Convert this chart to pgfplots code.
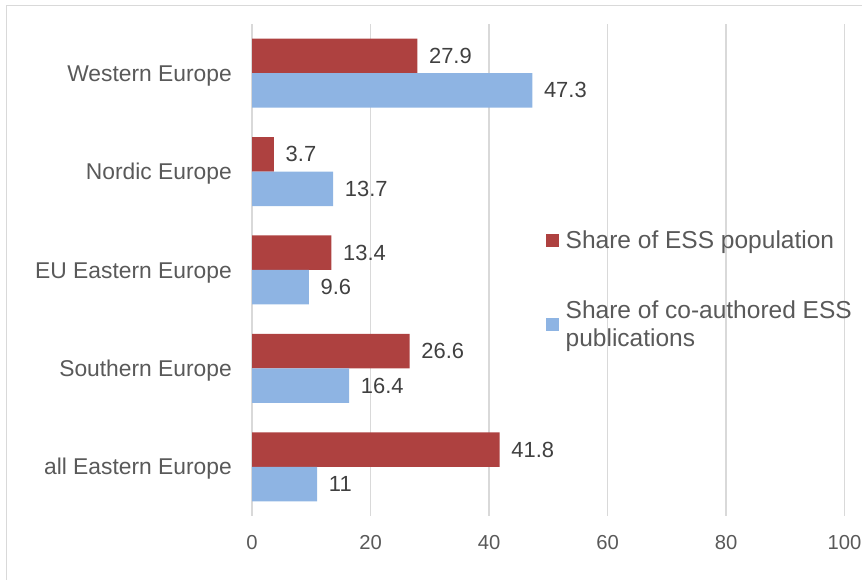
\documentclass[border=0pt]{standalone}
\usepackage{pgfplots}
\pgfplotsset{compat=1.18}
\usepackage{fontspec}
\setmainfont{Liberation Sans}
\definecolor{barred}{HTML}{AE4140}
\definecolor{barblue}{HTML}{8EB4E3}
\definecolor{gridgrey}{HTML}{D9D9D9}
\definecolor{txtgrey}{HTML}{595959}
\definecolor{lbl}{HTML}{404040}
\begin{document}
\begin{tikzpicture}[x=1bp,y=1bp]
\path[use as bounding box] (0,0) rectangle (862,580);
\draw[gridgrey, line width=1bp] (6,0) -- (6,574) -- (862,574);
\begin{axis}[
  at={(252bp,64bp)}, anchor=south west,
  scale only axis, width=592.5bp, height=492bp,
  xbar=0pt, bar width=34.5bp,
  xmin=0, xmax=100, ymin=-0.5, ymax=4.5,
  xtick={0,20,40,60,80,100}, ytick={0,1,2,3,4},
  yticklabels={all Eastern Europe, Southern Europe, EU Eastern Europe, Nordic Europe, Western Europe},
  axis line style={draw=none}, major tick length=0pt,
  xmajorgrids, grid style={gridgrey, line width=1.3bp},
  /pgf/number format/assume math mode=true,
  yticklabel style={anchor=base east, inner sep=0pt, xshift=-20bp, yshift=-8.2bp, font=\fontsize{22.9}{26}\selectfont, text=txtgrey},
  xticklabel style={anchor=center, inner sep=0pt, yshift=-26.3bp, font=\fontsize{20.3}{24}\selectfont, text=txtgrey},
  nodes near coords,
  every node near coord/.append style={anchor=west, inner sep=0pt, xshift=11.6bp, font=\fontsize{22}{26}\selectfont, text=lbl},
  legend style={at={(0.4962,0.5797)}, anchor=north west, draw=none, fill=none, inner sep=0pt, outer sep=0pt, row sep=51bp, column sep=6.7bp, font=\fontsize{24.6}{28}\selectfont, text=txtgrey, cells={align=left, inner sep=0pt}, nodes={inner sep=0pt}},
  legend cell align=left,
  legend image code/.code={\fill[#1] (0bp,-6.5bp) rectangle (13bp,6.5bp);},
]
\addplot[fill=barred, draw=none, bar shift=17.25bp] coordinates {(41.8,0) (26.6,1) (13.4,2) (3.7,3) (27.9,4)};
\addlegendentry{Share of ESS population}
\addplot[fill=barblue, draw=none, bar shift=-17.25bp] coordinates {(11,0) (16.4,1) (9.6,2) (13.7,3) (47.3,4)};
\addlegendentry{Share of co-authored ESS\\publications}
\end{axis}
\end{tikzpicture}
\end{document}
